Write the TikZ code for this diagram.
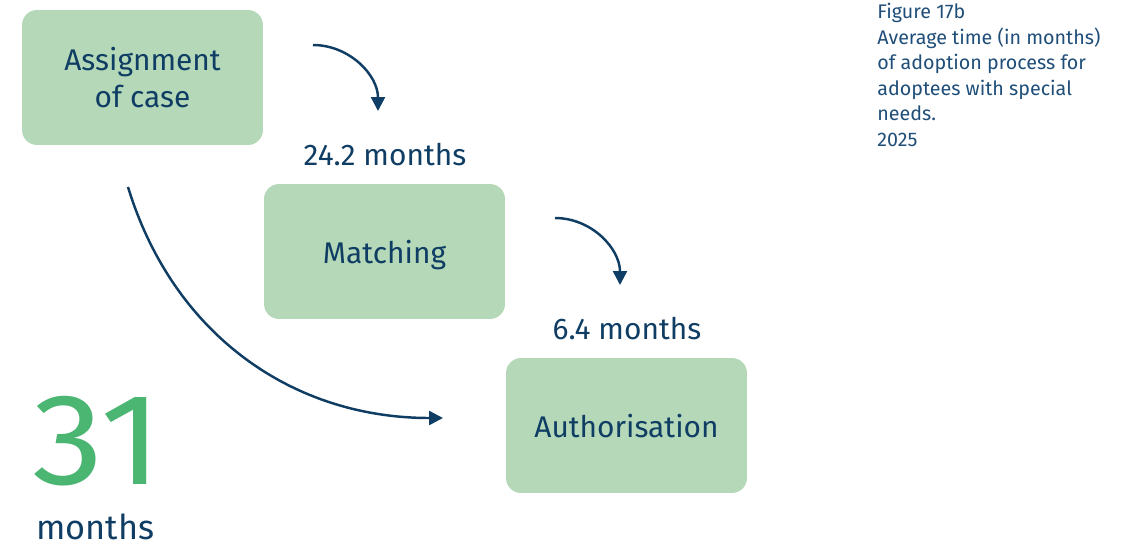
\documentclass[tikz,border=0pt]{standalone}
\usepackage{fontspec}
\setmainfont{Fira Sans}
\usetikzlibrary{arrows.meta}

\definecolor{boxgreen}{HTML}{B5D9B8}
\definecolor{navy}{HTML}{0F3D63}
\definecolor{capblue}{HTML}{1F4E79}
\definecolor{bignum}{HTML}{4BB572}

\tikzset{
    stage/.style={fill=boxgreen, rounded corners=0.3cm, minimum width=4.82cm, minimum height=2.7cm,
        text=navy, text depth=0pt, font=\fontsize{17}{21}\selectfont, align=center},
    dur/.style={text=navy, font=\fontsize{17}{21}\selectfont},
    flow/.style={navy, line width=1.4pt, -{Triangle[length=0.28cm,width=0.28cm]}}
}

\begin{document}
\begin{tikzpicture}[x=0.02cm, y=-0.02cm]
            \useasboundingbox (0,0) rectangle (1137,549);

            \node[stage] (assign) at (142.5,77.5) {Assignment\\of case};
            \node[stage] (match) at (384.5,251.5) {Matching};
            \node[stage] (auth) at (626.5,425.5) {Authorisation};

            \node[dur] (durmatch) at (385,155) {24.2 months};
            \node[dur] (durauth) at (627,328) {6.4 months};

            \coordinate (a1) at (313,45);
            \coordinate (b1) at (378,111);
            \coordinate (a2) at (555,218);
            \coordinate (b2) at (620,285);
            \coordinate (a3) at (128,187);
            \coordinate (b3) at (443,418);

            \draw[flow] (a1) to[out=0, in=90] (b1);
            \draw[flow] (a2) to[out=0, in=90] (b2);
            \draw[flow] (a3) to[out=-73, in=180] (b3);

            % total duration
            \node[anchor=south west, inner sep=0, text=bignum, xscale=1.1, transform shape,
                font=\fontsize{74}{74}\selectfont] (total) at (32,486) {31};
            \node[anchor=south west, inner sep=0, text=navy, font=\fontsize{19.5}{22}\selectfont] (totalunit) at (36,540) {months};

            % caption
            \node[anchor=north west, inner sep=0, text=capblue, align=left,
                font=\fontsize{11.2}{14.5}\selectfont] (caption) at (877,3)
                {Figure 17b\\Average time (in months)\\of adoption process for\\adoptees with special\\needs.\\2025};
        \end{tikzpicture}
\end{document}
